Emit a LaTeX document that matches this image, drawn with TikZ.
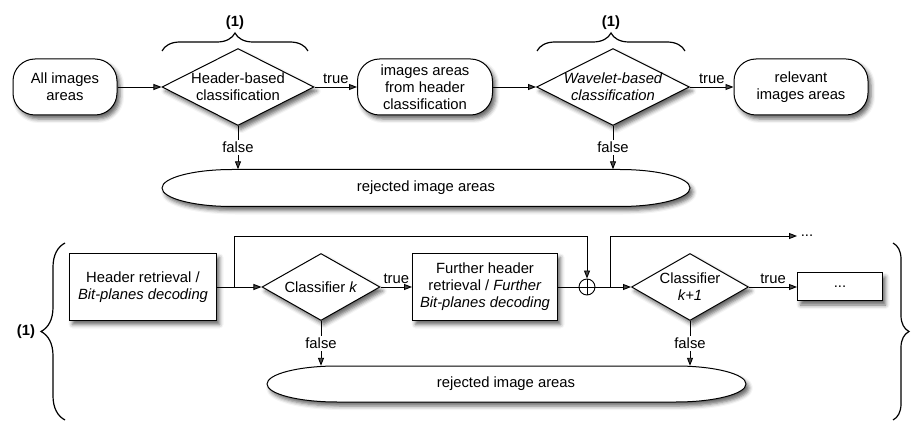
\documentclass[tikz,border=0pt]{standalone}
\usepackage{fontspec}
\setmainfont{Liberation Sans}
\usetikzlibrary{shapes.geometric,arrows.meta,decorations.pathreplacing,shadows.blur}

\tikzset{
  shade/.style={blur shadow={shadow xshift=3pt,shadow yshift=-4pt,shadow blur radius=4pt,shadow opacity=60}},
  term/.style={draw,line width=1pt,fill=white,rounded corners=22pt,minimum width=#1,minimum height=56pt,align=center,inner sep=0pt,shade},
  task/.style={draw,line width=1pt,fill=white,rectangle,minimum width=#1,minimum height=67pt,align=center,inner sep=0pt,shade},
  decision/.style={draw,line width=1pt,fill=white,diamond,minimum width=#1,inner sep=0pt,shade},
  pill/.style={draw,line width=1pt,fill=white,shade},
  flow/.style={line width=.9pt,-{Triangle[length=8pt,width=6pt]}},
  no/.style={fill=white,inner sep=2pt},
  curly/.style={decorate,line width=1.2pt,decoration={brace,amplitude=#1}},
}

\begin{document}
\begin{tikzpicture}[x=1pt,y=-1pt,font=\fontsize{14.8}{17}\selectfont]
  \useasboundingbox (0,0) rectangle (911,422);

  % upper chain
  \node[term=104pt] (all) at (65,87) {All images\\areas};
  \node[decision=152pt,minimum height=77pt,label={[align=center]center:Header-based\\classification}] (hdr) at (238,87) {};
  \node[term=135pt] (hout) at (425,87) {images areas\\from header\\classification};
  \node[decision=153pt,minimum height=77pt,label={[align=center,font=\fontsize{14.8}{17}\selectfont\itshape]center:Wavelet-based\\classification}] (wav) at (613,87) {};
  \node[term=134pt] (rel) at (801,87) {relevant\\images areas};
  \draw[pill] (232,169.5) -- (620,169.5) arc[start angle=90,end angle=-90,x radius=70pt,y radius=18.5pt]
    -- (232,206.5) arc[start angle=-90,end angle=-270,x radius=70pt,y radius=18.5pt] -- cycle;
  \node[minimum width=528pt,minimum height=37pt,inner sep=0pt] (rej1) at (426,188) {rejected image areas};

  \draw[flow] (all) -- (hdr);
  \draw[flow] (hdr) -- node[above] {true} (hout);
  \draw[flow] (hout) -- (wav);
  \draw[flow] (wav) -- node[above] {true} (rel);
  \draw[flow] (hdr) -- node[no] {false} (hdr |- rej1.north);
  \draw[flow] (wav) -- node[no] {false} (wav |- rej1.north);

  \draw[curly=18pt] (162,51) -- (308,51) node[midway,above=17pt] {\bfseries (1)};
  \draw[curly=18pt] (537,51) -- (685,51) node[midway,above=17pt] {\bfseries (1)};

  % one step of the cascade
  \node[task=147pt] (hret) at (143,287) {Header retrieval /\\\textit{Bit-planes decoding}};
  \node[decision=118pt,minimum height=67pt,label={center:Classifier \textit{k}}] (clk) at (321,287) {};
  \node[task=145pt] (fret) at (485,287) {Further header\\retrieval / \textit{Further}\\\textit{Bit-planes decoding}};
  \node[draw,circle,line width=.9pt,fill=white,minimum size=16pt,inner sep=0pt] (sum) at (587,287) {};
  \draw[line width=.9pt] (sum.north) -- (sum.south) (sum.west) -- (sum.east);
  \node[decision=117pt,minimum height=67pt,label={[align=center]center:Classifier\\\textit{k+1}}] (clk1) at (690,287) {};
  \node[task=85pt,minimum height=28pt] (next) at (840,287) {...};
  \draw[pill] (337,366) -- (676,366) arc[start angle=90,end angle=-90,x radius=70pt,y radius=18pt]
    -- (337,402) arc[start angle=-90,end angle=-270,x radius=70pt,y radius=18pt] -- cycle;
  \node[minimum width=479pt,minimum height=36pt,inner sep=0pt] (rej2) at (506,384) {rejected image areas};

  \coordinate (fork1) at (234,287);
  \coordinate (fork2) at (610,287);
  \coordinate (more) at (797,236);
  \draw[flow] (hret) -- (clk);
  \draw[flow] (fork1) -- ++(0,-51) -| (sum);
  \draw[flow] (clk) -- node[above] {true} (fret);
  \draw[line width=.9pt] (fret) -- (sum);
  \draw[flow] (sum) -- (clk1);
  \draw[flow] (fork2) -- ++(0,-51) -- (more) node[right] {...};
  \draw[flow] (clk1) -- node[above] {true} (next);
  \draw[flow] (clk) -- node[no] {false} (clk |- rej2.north);
  \draw[flow] (clk1) -- node[no] {false} (clk1 |- rej2.north);

  \draw[curly=24pt] (65,420) -- (65,243) node[midway,left=26pt] {\bfseries (1)};
  \draw[curly=16pt] (893,243) -- (893,420);
\end{tikzpicture}
\end{document}
